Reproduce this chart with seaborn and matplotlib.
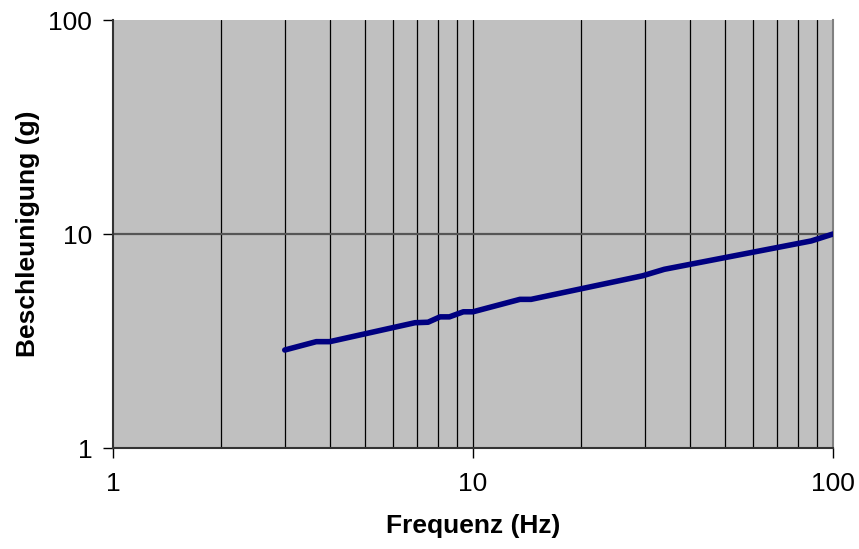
import numpy as np
import pandas as pd
import matplotlib
matplotlib.use("Agg")
import matplotlib.pyplot as plt
import seaborn as sns
from matplotlib.ticker import FixedLocator

# values
freq = [3, 3.67, 4, 6.9, 7.5, 8.1, 8.6, 9.4, 10, 13.5, 14.5, 29.6, 34, 87, 100]
accel = [2.87, 3.14, 3.14, 3.85, 3.87, 4.1, 4.1, 4.33, 4.33, 4.95, 4.95, 6.38, 6.84, 9.28, 10]

df = pd.DataFrame({"Frequenz": freq, "Beschleunigung": accel})

sns.set_style("white")
plt.rcParams["font.family"] = ["Liberation Sans", "DejaVu Sans"]
plt.rcParams["text.color"] = "black"
plt.rcParams["axes.labelcolor"] = "black"
plt.rcParams["xtick.color"] = "black"
plt.rcParams["ytick.color"] = "black"

fig = plt.figure(figsize=(8.59, 5.49), dpi=100)
ax = fig.add_axes([113/859, 1 - 448/549, 720/859, 428/549])
ax.set_facecolor("#c0c0c0")

ax.set_xscale("log")
ax.set_yscale("log")
ax.set_xlim(1, 100)
ax.set_ylim(1, 100)

# vertical gridlines at every decade step, horizontal only at major
for v in [2, 3, 4, 5, 6, 7, 8, 9, 10, 20, 30, 40, 50, 60, 70, 80, 90]:
    ax.axvline(v, color="black", lw=0.9, zorder=1)
ax.axhline(10, color="#555555", lw=1.6, zorder=1)

sns.lineplot(data=df, x="Frequenz", y="Beschleunigung", ax=ax,
             color="#000080", lw=4, zorder=3)

ax.set_xticks([1, 10, 100])
ax.set_xticklabels(["1", "10", "100"])
ax.set_yticks([1, 10, 100])
ax.set_yticklabels(["1", "10", "100"])
ax.xaxis.set_minor_locator(FixedLocator([]))
ax.yaxis.set_minor_locator(FixedLocator([]))
ax.tick_params(axis="both", which="major", direction="out", length=7,
               width=1, color="black", labelcolor="black", labelsize=19,
               pad=8, bottom=True, left=True)
ax.tick_params(axis="x", pad=10)

for s in ["left", "bottom"]:
    ax.spines[s].set_color("#333333")
    ax.spines[s].set_linewidth(1.5)
ax.spines["top"].set_visible(False)
ax.spines["right"].set_color("#808080")
ax.spines["right"].set_linewidth(1.5)

ax.set_xlabel("Frequenz (Hz)", fontsize=19, fontweight="bold", labelpad=13, color="black")
ax.set_ylabel("Beschleunigung (g)", fontsize=19, fontweight="bold", labelpad=6, color="black")

fig.savefig("out.png", dpi=100)
